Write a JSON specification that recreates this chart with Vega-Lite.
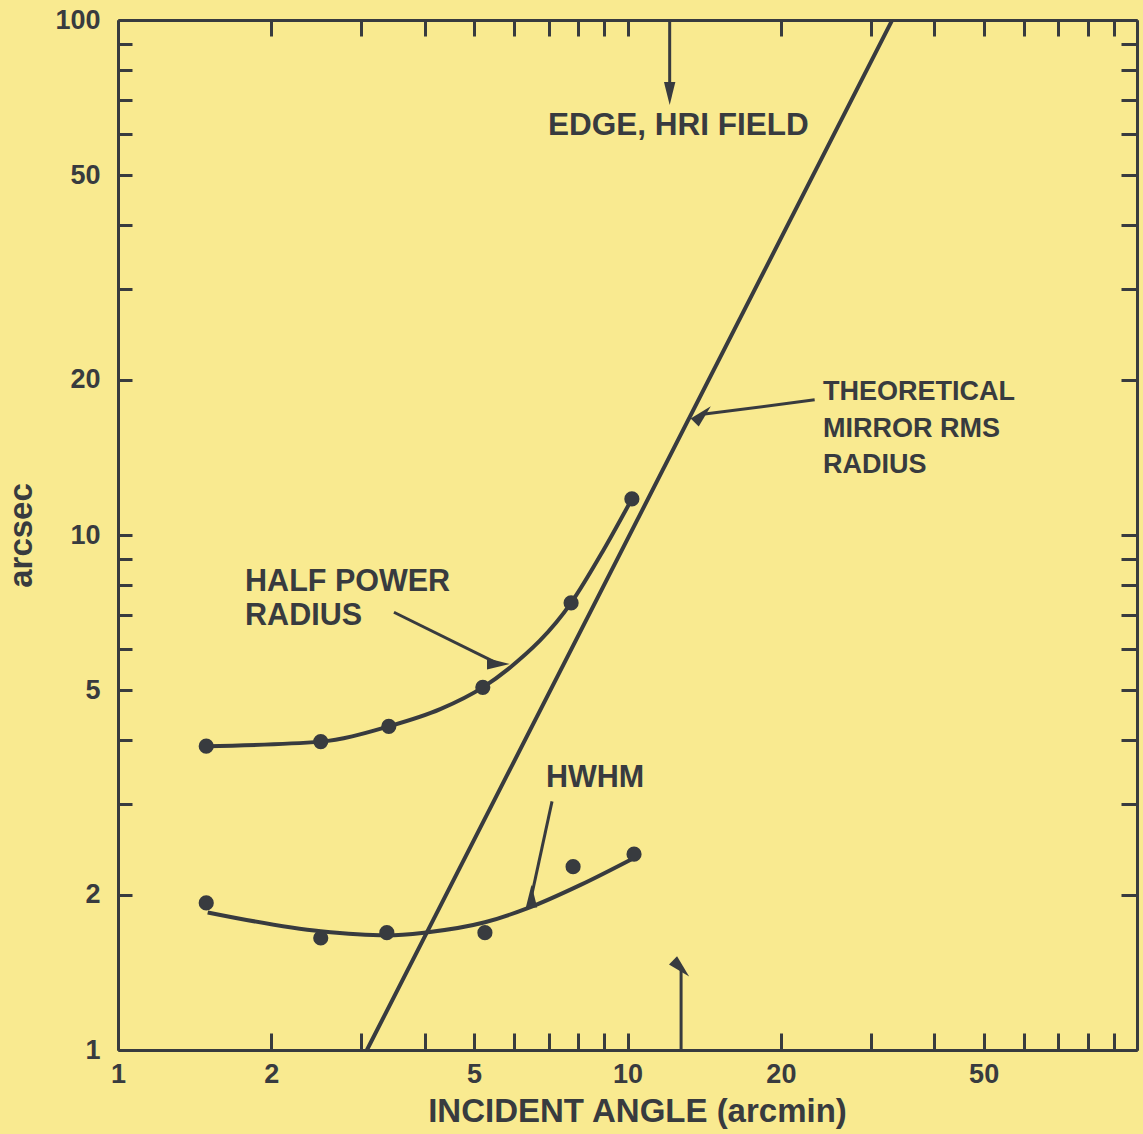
{
  "$schema": "https://vega.github.io/schema/vega-lite/v6.json",
  "width": 1019,
  "height": 1030,
  "autosize": {"type": "none"},
  "padding": {"left": 118, "top": 20, "right": 6, "bottom": 84},
  "background": "#f9ea90",
  "config": {
    "view": {"stroke": null},
    "axis": {
      "grid": false,
      "domainColor": "#383b3f",
      "domainWidth": 3,
      "tickColor": "#383b3f",
      "tickWidth": 3,
      "labelFont": "Liberation Sans",
      "labelFontWeight": "bold",
      "labelFontSize": 27,
      "labelColor": "#383b3f",
      "labelFlush": false,
      "labelOverlap": false,
      "titleFont": "Liberation Sans",
      "titleFontWeight": "bold",
      "titleColor": "#383b3f"
    }
  },
  "datasets": {
    "theory": [{"x": 3.08, "y": 1}, {"x": 33, "y": 99.5}],
    "hpr_pts": [
      {"x": 1.49, "y": 3.89}, {"x": 2.5, "y": 3.97}, {"x": 3.4, "y": 4.25},
      {"x": 5.2, "y": 5.06}, {"x": 7.75, "y": 7.38}, {"x": 10.2, "y": 11.75}
    ],
    "hpr_curve": [
      {"x": 1.49, "y": 3.89}, {"x": 2.5, "y": 3.97}, {"x": 3.4, "y": 4.25},
      {"x": 4.29, "y": 4.59}, {"x": 5.2, "y": 5.06}, {"x": 5.83, "y": 5.49},
      {"x": 7.75, "y": 7.38}, {"x": 8.95, "y": 9.31}, {"x": 10.2, "y": 11.75}
    ],
    "hwhm_pts": [
      {"x": 1.49, "y": 1.93}, {"x": 2.5, "y": 1.65}, {"x": 3.37, "y": 1.69},
      {"x": 5.25, "y": 1.69}, {"x": 7.82, "y": 2.27}, {"x": 10.3, "y": 2.4}
    ],
    "hwhm_curve": [
      {"x": 1.5, "y": 1.85}, {"x": 2.5, "y": 1.7}, {"x": 3.37, "y": 1.67},
      {"x": 3.99, "y": 1.69}, {"x": 5.25, "y": 1.77}, {"x": 6.41, "y": 1.89},
      {"x": 8.07, "y": 2.09}, {"x": 10.3, "y": 2.36}
    ],
    "shafts": [
      {"arrow": "edge_top", "x": 12.1, "y": 100, "x2": 12.1, "y2": 72.0},
      {"arrow": "edge_bottom", "x": 12.74, "y": 1, "x2": 12.74, "y2": 1.44},
      {"arrow": "hpr", "x": 3.48, "y": 7.08, "x2": 5.58, "y2": 5.62},
      {"arrow": "theory", "x": 23.3, "y": 18.3, "x2": 14.05, "y2": 17.15},
      {"arrow": "hwhm", "x": 7.11, "y": 3.04, "x2": 6.48, "y2": 1.99}
    ],
    "heads": [
      {"arrow": "edge_top", "x": 12.1, "y": 72.0},
      {"arrow": "edge_bottom", "x": 12.74, "y": 1.44},
      {"arrow": "hpr", "x": 5.58, "y": 5.62},
      {"arrow": "theory", "x": 14.05, "y": 17.15},
      {"arrow": "hwhm", "x": 6.48, "y": 1.99}
    ],
    "label_edge": [
      {"x": 6.98, "y": 62.2, "text": "EDGE, HRI FIELD"}
    ],
    "label_theory": [
      {"x": 24.2, "y": 18.98, "text": "THEORETICAL"},
      {"x": 24.2, "y": 16.08, "text": "MIRROR RMS"},
      {"x": 24.2, "y": 13.7, "text": "RADIUS"}
    ],
    "label_curves": [
      {"x": 1.776, "y": 8.1, "text": "HALF POWER"},
      {"x": 1.776, "y": 6.96, "text": "RADIUS"},
      {"x": 6.92, "y": 3.37, "text": "HWHM"}
    ]
  },
  "layer": [
    {
      "data": {"name": "theory"},
      "mark": {"type": "line", "color": "#383b3f", "strokeWidth": 4, "strokeCap": "round"},
      "encoding": {
        "x": {
          "field": "x", "type": "quantitative",
          "scale": {"type": "log", "domain": [1, 100], "nice": false},
          "axis": {
            "orient": "bottom",
            "values": [1, 2, 3, 4, 5, 6, 7, 8, 9, 10, 20, 30, 40, 50, 60, 70, 80, 90, 100],
            "labelExpr": "indexof([1, 2, 5, 10, 20, 50], datum.value) >= 0 ? datum.value : ''",
            "tickSize": -17,
            "labelPadding": 28,
            "title": "INCIDENT ANGLE (arcmin)",
            "titleFontSize": 33,
            "titlePadding": 8,
            "titleX": 519
          }
        },
        "y": {
          "field": "y", "type": "quantitative",
          "scale": {"type": "log", "domain": [1, 100], "nice": false},
          "axis": {
            "orient": "left",
            "values": [1, 2, 3, 4, 5, 6, 7, 8, 9, 10, 20, 30, 40, 50, 60, 70, 80, 90, 100],
            "labelExpr": "indexof([1, 2, 5, 10, 20, 50, 100], datum.value) >= 0 ? datum.value : ''",
            "tickSize": -14,
            "labelPadding": 32,
            "title": "arcsec",
            "titleFontSize": 33,
            "titlePadding": 16
          }
        }
      }
    },
    {
      "data": {"name": "hpr_curve"},
      "mark": {"type": "line", "color": "#383b3f", "strokeWidth": 4, "interpolate": "monotone"},
      "encoding": {
        "x": {
          "field": "x", "type": "quantitative",
          "axis": {
            "orient": "top",
            "values": [1, 2, 3, 4, 5, 6, 7, 8, 9, 10, 20, 30, 40, 50, 60, 70, 80, 90, 100],
            "labels": false, "tickSize": -16, "title": null
          }
        },
        "y": {
          "field": "y", "type": "quantitative",
          "axis": {
            "orient": "right",
            "values": [1, 2, 3, 4, 5, 6, 7, 8, 9, 10, 20, 30, 40, 50, 60, 70, 80, 90, 100],
            "labels": false, "tickSize": -16, "title": null
          }
        }
      }
    },
    {
      "data": {"name": "hwhm_curve"},
      "mark": {"type": "line", "color": "#383b3f", "strokeWidth": 4, "interpolate": "monotone"},
      "encoding": {
        "x": {"field": "x", "type": "quantitative", "axis": null},
        "y": {"field": "y", "type": "quantitative", "axis": null}
      }
    },
    {
      "data": {"name": "hpr_pts"},
      "mark": {"type": "point", "shape": "circle", "filled": true, "color": "#383b3f", "size": 230, "opacity": 1},
      "encoding": {
        "x": {"field": "x", "type": "quantitative", "axis": null},
        "y": {"field": "y", "type": "quantitative", "axis": null}
      }
    },
    {
      "data": {"name": "hwhm_pts"},
      "mark": {"type": "point", "shape": "circle", "filled": true, "color": "#383b3f", "size": 230, "opacity": 1},
      "encoding": {
        "x": {"field": "x", "type": "quantitative", "axis": null},
        "y": {"field": "y", "type": "quantitative", "axis": null}
      }
    },
    {
      "data": {"name": "shafts"},
      "mark": {"type": "rule", "color": "#383b3f", "strokeWidth": 3},
      "encoding": {
        "x": {"field": "x", "type": "quantitative", "axis": null},
        "y": {"field": "y", "type": "quantitative", "axis": null},
        "x2": {"field": "x2"},
        "y2": {"field": "y2"}
      }
    },
    {
      "data": {"name": "heads"},
      "mark": {"type": "point", "shape": "M0,-1L0.5,1L-0.5,1Z", "filled": true, "color": "#383b3f", "size": 520, "opacity": 1, "strokeWidth": 0},
      "encoding": {
        "x": {"field": "x", "type": "quantitative", "axis": null},
        "y": {"field": "y", "type": "quantitative", "axis": null},
        "angle": {
          "field": "arrow", "type": "nominal",
          "scale": {"domain": ["edge_top", "edge_bottom", "hpr", "theory", "hwhm"], "range": [180, 0, 116.6, 262.6, 192.4]},
          "legend": null
        }
      }
    },
    {
      "data": {"name": "label_edge"},
      "mark": {"type": "text", "align": "left", "baseline": "middle", "font": "Liberation Sans", "fontWeight": "bold", "fontSize": 31.5, "color": "#383b3f"},
      "encoding": {
        "x": {"field": "x", "type": "quantitative", "axis": null},
        "y": {"field": "y", "type": "quantitative", "axis": null},
        "text": {"field": "text"}
      }
    },
    {
      "data": {"name": "label_theory"},
      "mark": {"type": "text", "align": "left", "baseline": "middle", "font": "Liberation Sans", "fontWeight": "bold", "fontSize": 27, "color": "#383b3f"},
      "encoding": {
        "x": {"field": "x", "type": "quantitative", "axis": null},
        "y": {"field": "y", "type": "quantitative", "axis": null},
        "text": {"field": "text"}
      }
    },
    {
      "data": {"name": "label_curves"},
      "mark": {"type": "text", "align": "left", "baseline": "middle", "font": "Liberation Sans", "fontWeight": "bold", "fontSize": 30.5, "color": "#383b3f"},
      "encoding": {
        "x": {"field": "x", "type": "quantitative", "axis": null},
        "y": {"field": "y", "type": "quantitative", "axis": null},
        "text": {"field": "text"}
      }
    }
  ],
  "resolve": {"axis": {"x": "independent", "y": "independent"}}
}
